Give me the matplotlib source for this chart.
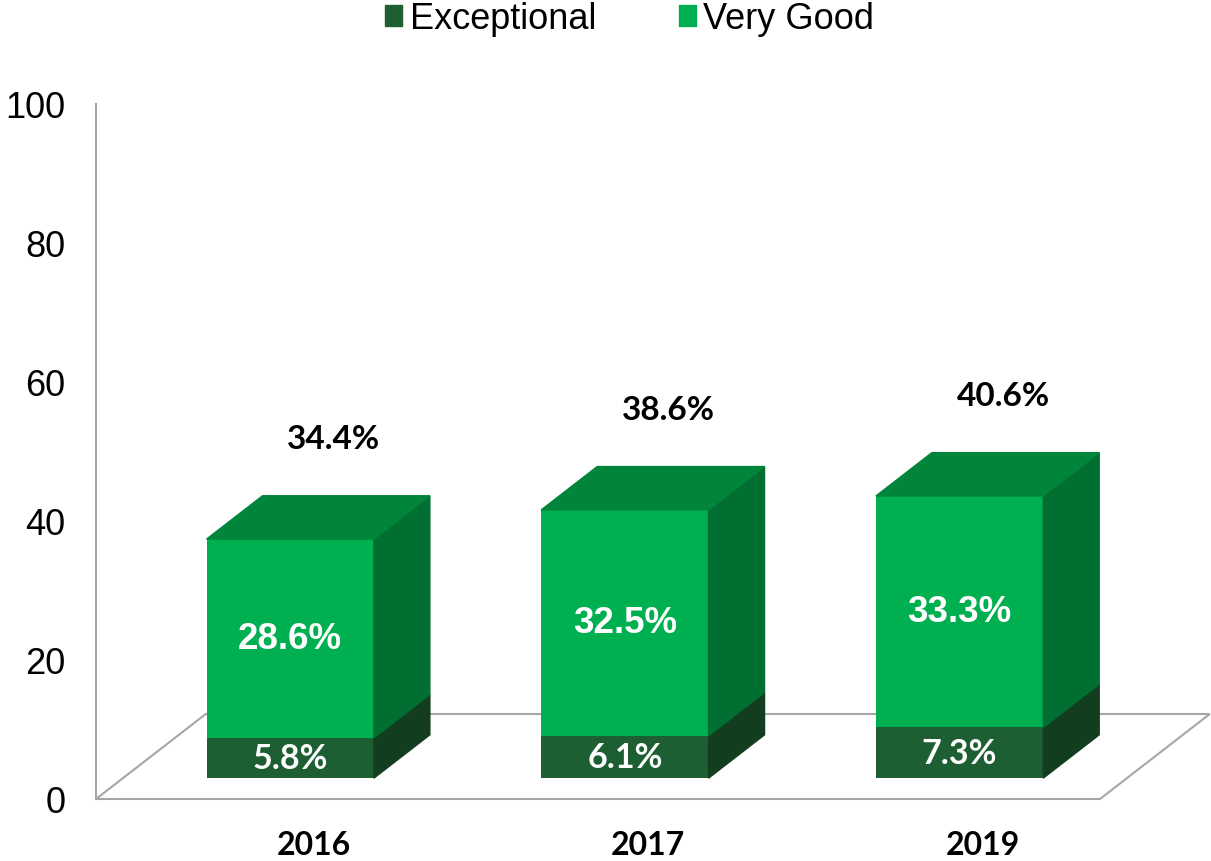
import matplotlib.pyplot as plt
from matplotlib.patches import Patch

years = ['2016', '2017', '2019']
exceptional = [5.8, 6.1, 7.3]
very_good = [28.6, 32.5, 33.3]
totals = [34.4, 38.6, 40.6]
yticks = [0, 20, 40, 60, 80, 100]

c_exc = '#1d5f33'
c_exc_side = '#133d1f'
c_vg = '#00b050'
c_vg_side = '#006f31'
c_vg_top = '#00853a'
grey = '#a6a6a6'

# fake 3d: depth d in [0, 1] shifts right and up
DX, DV = 0.328, 12.23
d0, d1 = 0.245, 0.755
w = 0.5

def proj(x, v, d):
    return x + d * DX, v + d * DV

fig = plt.figure(figsize=(12.11, 8.62), dpi=100)
ax = fig.add_axes([96 / 1211, 62 / 862, 1004 / 1211, 695 / 862])
ax.set_xlim(-0.5, 2.5)
ax.set_ylim(0, 100)

# floor
fl = [proj(-0.5, 0, 0), proj(2.5, 0, 0), proj(2.5, 0, 1), proj(-0.5, 0, 1)]
ax.fill([p[0] for p in fl], [p[1] for p in fl], facecolor='white',
        edgecolor=grey, linewidth=1.5, clip_on=False, zorder=1)

xs = range(len(years))
for i in xs:
    segs = [(0, exceptional[i], c_exc, c_exc_side),
            (exceptional[i], exceptional[i] + very_good[i], c_vg, c_vg_side)]
    xl = i - w / 2
    xr = i + w / 2
    for lo, hi, cf, cs in segs:
        fx, fy = proj(xl, lo, d0)
        ax.bar(fx, hi - lo, width=w, bottom=fy, align='edge', color=cf,
               zorder=3, clip_on=False)
        side = [proj(xr, lo, d0), proj(xr, lo, d1), proj(xr, hi, d1), proj(xr, hi, d0)]
        ax.fill([p[0] for p in side], [p[1] for p in side], color=cs,
                zorder=3, clip_on=False)
    top = [proj(xl, totals[i], d0), proj(xr, totals[i], d0),
           proj(xr, totals[i], d1), proj(xl, totals[i], d1)]
    ax.fill([p[0] for p in top], [p[1] for p in top], color=c_vg_top,
            zorder=3, clip_on=False)

    cx, base = proj(i, 0, d0)
    ax.text(cx, base + exceptional[i] / 2, f'{exceptional[i]}%', ha='center',
            va='center', color='white', fontsize=24.5, fontweight='bold',
            family='Lato', zorder=5)
    ax.text(cx, base + exceptional[i] + very_good[i] / 2, f'{very_good[i]}%',
            ha='center', va='center', color='white', fontsize=26.5,
            fontweight='bold', family='Liberation Sans', zorder=5)
    ax.text(cx + 0.13, base + totals[i] + 14.5, f'{totals[i]}%', ha='center',
            va='center', color='black', fontsize=24, fontweight='bold',
            family='Lato', zorder=5)
    ax.text(i + 0.15, -6.5, years[i], ha='center', va='center', color='black',
            fontsize=23, fontweight='bold', family='Lato', clip_on=False)

for s in ['top', 'right', 'bottom']:
    ax.spines[s].set_visible(False)
ax.spines['left'].set_color(grey)
ax.spines['left'].set_linewidth(1.5)
ax.set_xticks([])
ax.set_yticks(yticks)
ax.tick_params(axis='y', length=0, pad=22, labelsize=26)
for lab in ax.get_yticklabels():
    lab.set_family('Liberation Sans')
ax.patch.set_alpha(0)

handles = [Patch(color=c_exc, label='Exceptional'), Patch(color=c_vg, label='Very Good')]
fig.legend(handles=handles, loc='center', bbox_to_anchor=(0.52, 0.977), ncol=2,
           frameon=False, prop={'family': 'Liberation Sans', 'size': 26},
           handlelength=0.47, handleheight=0.53, handletextpad=0.2,
           columnspacing=2.3)

fig.savefig('out.png', dpi=100)
